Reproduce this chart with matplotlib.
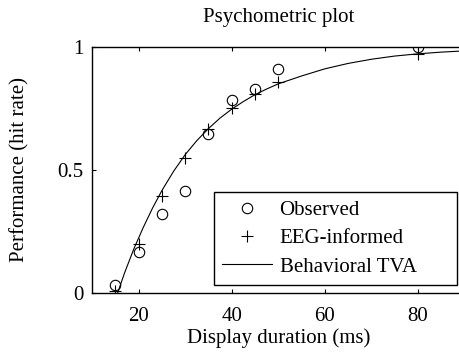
import numpy as np
import matplotlib
matplotlib.use('Agg')
import matplotlib.pyplot as plt

plt.rcParams['font.family'] = ['Liberation Serif', 'DejaVu Serif']

# data
durations = [15, 20, 25, 30, 35, 40, 45, 50, 80]
observed = [0.033, 0.168, 0.32, 0.415, 0.645, 0.785, 0.828, 0.91, 1.0]
eeg_informed = [0.01, 0.2, 0.395, 0.55, 0.665, 0.75, 0.808, 0.856, 0.972]

# behavioral TVA fit, sampled along the drawn curve
curve_x = [15.5, 17, 19, 21, 23, 25, 27.5, 30, 32.5, 35, 37.5, 40, 42.5, 45,
           47.5, 50, 55, 60, 65, 70, 75, 80, 85, 90]
curve_y = [0.0, 0.082, 0.18, 0.266, 0.345, 0.416, 0.494, 0.562, 0.619, 0.668,
           0.711, 0.747, 0.778, 0.806, 0.829, 0.850, 0.882, 0.911, 0.933,
           0.950, 0.963, 0.972, 0.979, 0.984]

fig = plt.figure(figsize=(4.6, 3.53), dpi=100)
ax = fig.add_axes([0.2, 0.17, 0.8098, 0.697])

ax.plot(durations, observed, 'o', mfc='none', mec='black', ms=7.5, mew=0.8,
        label='Observed', ls='none')
ax.plot(durations, eeg_informed, '+', color='black', ms=8.5, mew=0.8,
        label='EEG-informed', ls='none')
ax.plot(curve_x, curve_y, '-', color='black', lw=0.8, label='Behavioral TVA')

ax.set_xlim(10, 90)
ax.set_ylim(0, 1)
ax.set_xticks([20, 40, 60, 80])
ax.set_yticks([0, 0.5, 1])
ax.set_yticklabels(['0', '0.5', '1'])
ax.tick_params(direction='in', top=True, right=True, labelsize=15, length=3,
               width=0.8, pad=6)
ax.tick_params(axis='x', pad=10)
for s in ax.spines.values():
    s.set_linewidth(1.0)

ax.set_xlabel('Display duration (ms)', fontsize=15, labelpad=2)
ax.set_ylabel('Performance (hit rate)', fontsize=15, labelpad=20)
ax.set_title('Psychometric plot', fontsize=15, pad=18)

# MATLAB-like legend box: wide frame, entries left-aligned
leg = ax.legend(loc='lower left', mode='expand',
                bbox_to_anchor=(0.3275, 0.0325, 0.6525, 0.386),
                fontsize=15, frameon=True, fancybox=False,
                edgecolor='black', framealpha=1, borderpad=0.4,
                labelspacing=0.42, handlelength=2.4, handletextpad=0.35,
                borderaxespad=0)
leg.get_frame().set_linewidth(1.0)

fig.savefig('out.png', dpi=100)
